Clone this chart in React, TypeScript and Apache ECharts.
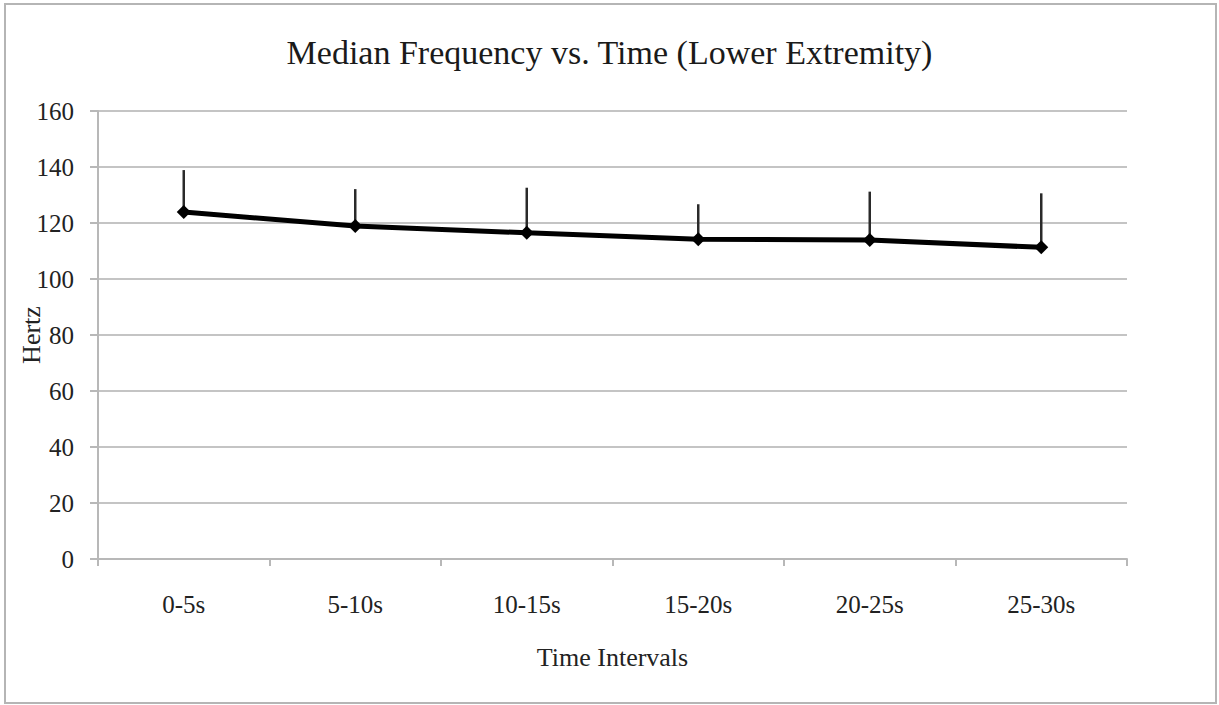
import React, { useEffect, useRef } from "react";
import * as echarts from "echarts";

const categories = ["0-5s", "5-10s", "10-15s", "15-20s", "20-25s", "25-30s"];
const medianHz = [123.9, 118.9, 116.5, 114.2, 113.9, 111.3];
const errorPlus = [15.0, 13.2, 16.1, 12.5, 17.3, 19.3];
const yTicks = { min: 0, max: 160, interval: 20 };

const FONT = "'Liberation Serif', 'Times New Roman', serif";

export default function App() {
  const ref = useRef<HTMLDivElement>(null);
  useEffect(() => {
    if (!ref.current) return;
    const chart = echarts.init(ref.current, undefined, { renderer: "svg" });
    const errData = medianHz.map((v, i) => [i, v, v + errorPlus[i]]);
    chart.setOption({
      animation: false,
      backgroundColor: "#ffffff",
      title: {
        text: "Median Frequency vs. Time (Lower Extremity)",
        left: "center",
        top: 30,
        textStyle: { fontFamily: FONT, fontSize: 34, fontWeight: "normal", color: "#1a1a1a" },
      },
      graphic: [
        {
          type: "rect",
          shape: { x: 5, y: 4, width: 1211, height: 699 },
          style: { fill: "none", stroke: "#b5b5b5", lineWidth: 2 },
          silent: true,
        },
      ],
      grid: { left: 98, right: 92, top: 111, bottom: 146, outerBoundsMode: "none", containLabel: false },
      xAxis: {
        type: "category",
        data: categories,
        boundaryGap: true,
        axisLine: { lineStyle: { color: "#b8b8b8", width: 2 } },
        axisTick: { show: true, length: 7, inside: false, lineStyle: { color: "#b8b8b8", width: 2 } },
        axisLabel: { fontFamily: FONT, fontSize: 25, color: "#222", margin: 33 },
        name: "Time Intervals",
        nameLocation: "middle",
        nameGap: 85,
        nameTextStyle: { fontFamily: FONT, fontSize: 26, color: "#222" },
      },
      yAxis: {
        type: "value",
        min: yTicks.min,
        max: yTicks.max,
        interval: yTicks.interval,
        axisLine: { show: true, lineStyle: { color: "#b8b8b8", width: 2 } },
        axisTick: { show: true, length: 8, lineStyle: { color: "#b8b8b8", width: 2 } },
        splitLine: { show: true, lineStyle: { color: "#c4c4c4", width: 2 } },
        axisLabel: { fontFamily: FONT, fontSize: 25, color: "#222", margin: 24 },
        name: "Hertz",
        nameLocation: "middle",
        nameGap: 54,
        nameRotate: 90,
        nameMoveOverlap: false,
        nameTextStyle: { fontFamily: FONT, fontSize: 26, color: "#222" },
      },
      series: [
        {
          type: "custom",
          data: errData,
          z: 1,
          renderItem: (params: any, api: any) => {
            const i = api.value(0);
            const p0 = api.coord([i, api.value(1)]);
            const p1 = api.coord([i, api.value(2)]);
            return {
              type: "line",
              shape: { x1: p0[0], y1: p0[1], x2: p1[0], y2: p1[1] },
              style: { stroke: "#2a2a2a", lineWidth: 2.5 },
            };
          },
        },
        {
          type: "line",
          data: medianHz,
          z: 3,
          symbol: "diamond",
          symbolSize: 14,
          lineStyle: { color: "#000", width: 5 },
          itemStyle: { color: "#000" },
        },
      ],
    });
    return () => chart.dispose();
  }, []);
  return (
    <div
      ref={ref}
      style={{ position: "fixed", left: 0, top: 0, width: 1219, height: 705 }}
    />
  );
}
